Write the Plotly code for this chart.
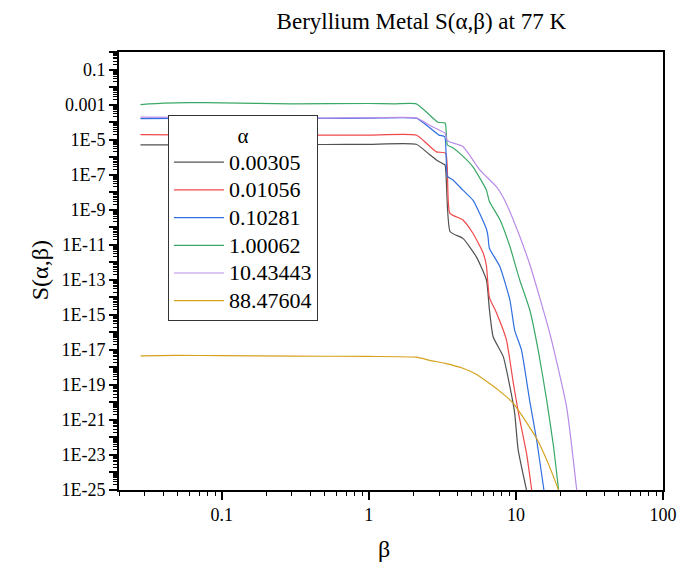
import plotly.graph_objects as go

# ---- data ----
alpha_labels = ["0.00305", "0.01056", "0.10281", "1.00062", "10.43443", "88.47604"]
line_colors = ["#505050", "#f04848", "#2f6fe0", "#3aa866", "#b98be8", "#d6a21e"]

beta_k = [0.028, 0.05, 0.1, 0.2, 0.5, 1.0, 2.1, 2.46, 2.88, 3.2, 3.3, 3.57, 4.36, 5.37, 6.3, 6.6, 7.0, 8.2, 9.1, 9.8, 10.35, 11.8]
S_k = [5e-6, 5e-6, 5.1e-6, 5.25e-6, 5.25e-6, 5.4e-6, 5.4e-6, 2e-6, 6.9e-7, 4.1e-7, 3.5e-7, 5.5e-11, 2.3e-11, 2.1e-12, 1e-13, 2e-15, 5.6e-17, 4.1e-18, 7.9e-20, 2.5e-21, 2e-23, 1e-25]

beta_r = [0.028, 0.05, 0.1, 0.2, 0.5, 1.0, 2.1, 2.46, 2.88, 3.33, 3.55, 4.36, 5.1, 6.0, 6.3, 6.6, 7.38, 8.6, 9.6, 10.4, 11.8, 12.8]
S_r = [1.9e-5, 1.86e-5, 1.78e-5, 1.82e-5, 1.82e-5, 1.82e-5, 1.82e-5, 6.2e-6, 2e-6, 1.66e-6, 6.3e-10, 2.6e-10, 4.5e-11, 3.2e-12, 6.3e-13, 1e-14, 1.26e-15, 4e-17, 1.26e-19, 2.5e-21, 1.26e-23, 1e-25]

beta_b = [0.028, 0.05, 0.1, 0.2, 0.5, 1.0, 2.1, 2.46, 3.0, 3.28, 3.42, 3.73, 4.36, 5.1, 5.66, 6.3, 6.45, 6.6, 7.78, 9.1, 9.8, 10.9, 12.4, 13.8, 15.5]
S_b = [1.58e-4, 1.62e-4, 1.66e-4, 1.66e-4, 1.62e-4, 1.66e-4, 1.66e-4, 6.8e-5, 1.8e-5, 1.48e-5, 7.9e-8, 5e-8, 1.3e-8, 3.5e-9, 6.3e-10, 7.9e-11, 3.2e-11, 6.3e-12, 5.6e-13, 6.9e-15, 1.35e-16, 1e-17, 1.26e-20, 7.9e-23, 1e-25]

beta_g = [0.028, 0.04, 0.06, 0.1, 0.3, 1.0, 1.5, 2.1, 2.45, 2.95, 3.3, 3.42, 3.7, 4.3, 5.1, 6.3, 6.6, 7.8, 9.1, 10.6, 12.4, 14.3, 16.2, 18.0, 19.5]
S_g = [1.0e-3, 1.2e-3, 1.3e-3, 1.25e-3, 1.1e-3, 1.15e-3, 1.1e-3, 1.1e-3, 3.9e-4, 9.8e-5, 8.9e-5, 4.9e-6, 3.5e-6, 1.26e-6, 2.8e-7, 1.3e-8, 2.9e-9, 2.6e-10, 7.9e-12, 1e-13, 2e-15, 6.3e-18, 1.26e-20, 3.2e-23, 1e-25]

beta_p = [0.028, 0.05, 0.1, 0.2, 0.5, 1.0, 2.1, 2.57, 3.0, 3.3, 3.4, 3.6, 4.36, 5.68, 7.38, 8.2, 9.6, 12.4, 17.0, 22.1, 25.9]
S_p = [1.9e-4, 1.86e-4, 1.78e-4, 1.74e-4, 1.7e-4, 1.74e-4, 1.74e-4, 6.8e-5, 3.5e-5, 2.3e-5, 8.9e-6, 7.1e-6, 4e-6, 1.86e-7, 2.0e-8, 5e-9, 2.6e-10, 7.9e-13, 8.7e-17, 5.6e-21, 1e-25]

beta_o = [0.028, 0.05, 0.1, 0.3, 1.0, 2.1, 2.6, 3.3, 4.36, 5.37, 6.3, 7.6, 9.6, 13.8, 16.6, 19.5]
S_o = [4.5e-18, 4.8e-18, 4.7e-18, 4.4e-18, 4.2e-18, 3.8e-18, 2.5e-18, 1.7e-18, 8.9e-19, 4e-19, 1.6e-19, 5e-20, 8.9e-21, 8.9e-23, 3.2e-24, 1e-25]

x_tick_vals = [0.1, 1, 10, 100]
x_tick_text = ["0.1", "1", "10", "100"]
y_label_exps = list(range(-25, 1))
y_tick_text_map = {-1: "0.1", -3: "0.001"}

series = [(beta_k, S_k), (beta_r, S_r), (beta_b, S_b), (beta_g, S_g), (beta_p, S_p), (beta_o, S_o)]

FONT = "Liberation Serif, Times New Roman, serif"

fig = go.Figure()
for (bx, sy), name, col in zip(series, alpha_labels, line_colors):
    fig.add_trace(go.Scatter(x=bx, y=sy, mode="lines",
                             name="<span style='font-size:22px'>%s</span>" % name,
                             line=dict(color=col, width=1.2, shape="spline", smoothing=0.5)))

y_tick_vals = [10.0 ** e for e in y_label_exps]
y_tick_text = []
for e in y_label_exps:
    if e % 2 == 1:
        y_tick_text.append(y_tick_text_map.get(e, "1E%d" % e))
    else:
        y_tick_text.append("")

x_minor = [k * 10.0 ** n for n in range(-2, 2) for k in range(2, 10)]
y_minor = [k * 10.0 ** n for n in range(-25, 0) for k in range(2, 10)]

fig.update_layout(
    width=693, height=569,
    margin=dict(l=119, r=30, t=52, b=79),
    paper_bgcolor="white", plot_bgcolor="white",
    font=dict(family=FONT, color="black", size=18),
    title=dict(text="Beryllium Metal S(\u03b1,\u03b2) at 77 K", x=0.608, xanchor="center",
               xref="container", y=0.963, yanchor="middle", yref="container",
               font=dict(family=FONT, size=23, color="black")),
    showlegend=True,
    legend=dict(x=0.09, y=0.856, xanchor="left", yanchor="top",
                bgcolor="white", bordercolor="#333333", borderwidth=1,
                font=dict(family=FONT, size=19, color="black"),
                title=dict(text="\u03b1", side="top center", font=dict(family=FONT, size=21)),
                itemwidth=50, tracegroupgap=0),
)

fig.update_xaxes(type="log", range=[-1.699, 2], showgrid=False, zeroline=False,
                 showline=True, linecolor="black", linewidth=1.5, mirror=True,
                 ticks="outside", ticklen=8, tickwidth=1.5, tickcolor="black",
                 tickmode="array", tickvals=x_tick_vals, ticktext=x_tick_text,
                 tickfont=dict(family=FONT, size=18),
                 minor=dict(tickmode="array", tickvals=x_minor, ticks="outside",
                            ticklen=4, tickwidth=1.2, tickcolor="black", showgrid=False))
fig.update_yaxes(type="log", range=[-25, 0], showgrid=False, zeroline=False,
                 showline=True, linecolor="black", linewidth=2, mirror=True,
                 ticks="outside", ticklen=8, tickwidth=1.5, tickcolor="black",
                 tickmode="array", tickvals=y_tick_vals, ticktext=y_tick_text,
                 tickfont=dict(family=FONT, size=18),
                 minor=dict(tickmode="array", tickvals=y_minor, ticks="outside",
                            ticklen=4, tickwidth=1, tickcolor="black", showgrid=False))

fig.add_annotation(text="\u03b2", xref="paper", yref="paper", x=0.487, y=-0.135,
                   xanchor="center", yanchor="middle", showarrow=False,
                   font=dict(family=FONT, size=24, color="black"))
fig.add_annotation(text="S(\u03b1,\u03b2)", xref="paper", yref="paper", x=-0.145, y=0.502,
                   xanchor="center", yanchor="middle", showarrow=False, textangle=-90,
                   font=dict(family=FONT, size=24, color="black"))

fig.write_html("out.html")
